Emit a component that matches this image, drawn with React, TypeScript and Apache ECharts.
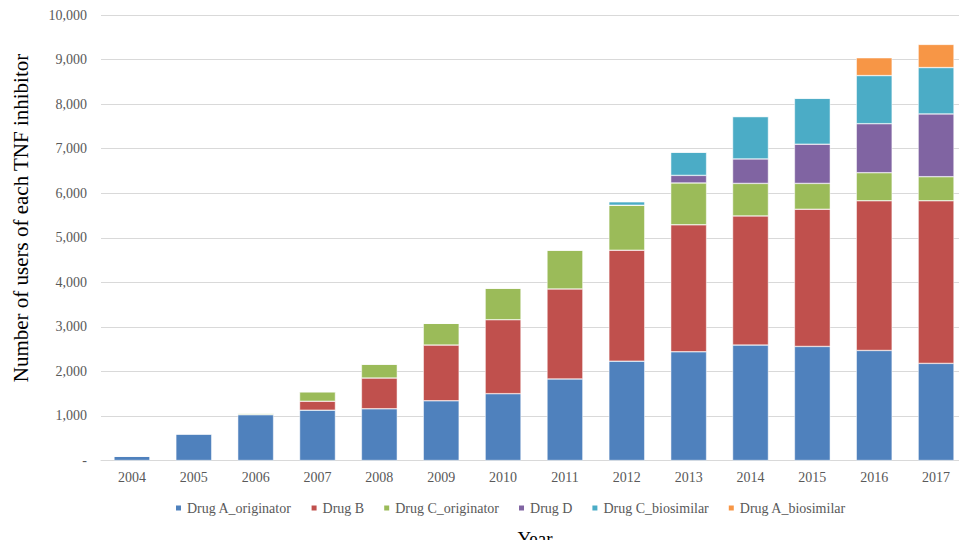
import React, { useEffect, useRef } from "react";
import * as echarts from "echarts";

const years = ["2004", "2005", "2006", "2007", "2008", "2009", "2010", "2011", "2012", "2013", "2014", "2015", "2016", "2017"];
const drugAOriginator = [100, 600, 1030, 1130, 1160, 1340, 1500, 1830, 2230, 2440, 2590, 2560, 2470, 2180];
const drugB = [0, 0, 0, 200, 690, 1250, 1660, 2020, 2490, 2850, 2900, 3080, 3360, 3650];
const drugCOriginator = [0, 0, 35, 215, 315, 490, 710, 875, 1010, 940, 730, 580, 630, 540];
const drugD = [0, 0, 0, 0, 0, 0, 0, 0, 0, 170, 550, 880, 1100, 1410];
const drugCBiosimilar = [0, 0, 0, 0, 0, 0, 0, 0, 80, 520, 950, 1030, 1080, 1040];
const drugABiosimilar = [0, 0, 0, 0, 0, 0, 0, 0, 0, 0, 0, 0, 400, 520];

const seriesDefs = [
  { name: "Drug A_originator", data: drugAOriginator, color: "#4F81BD" },
  { name: "Drug B", data: drugB, color: "#C0504D" },
  { name: "Drug C_originator", data: drugCOriginator, color: "#9BBB59" },
  { name: "Drug D", data: drugD, color: "#8064A2" },
  { name: "Drug C_biosimilar", data: drugCBiosimilar, color: "#4BACC6" },
  { name: "Drug A_biosimilar", data: drugABiosimilar, color: "#F79646" },
];

const FONT = "Liberation Serif";

export default function App() {
  const ref = useRef<HTMLDivElement>(null);
  useEffect(() => {
    if (!ref.current) return;
    const chart = echarts.init(ref.current, undefined, { renderer: "svg" });
    chart.setOption({
      animation: false,
      textStyle: { fontFamily: FONT },
      grid: { left: 101, right: 0, top: 15, bottom: 87.5, containLabel: false },
      legend: {
        left: 174,
        top: 501,
        padding: 0,
        itemWidth: 7,
        itemHeight: 7,
        itemGap: 18,
        icon: "rect",
        textStyle: { fontFamily: FONT, fontSize: 14, color: "#595959" },
        data: seriesDefs.map((s) => s.name),
      },
      xAxis: {
        type: "category",
        data: years,
        axisLine: { lineStyle: { color: "#d9d9d9" } },
        axisTick: { show: false },
        axisLabel: { fontFamily: FONT, fontSize: 14, color: "#595959", margin: 10 },
      },
      yAxis: {
        type: "value",
        min: 0,
        max: 10000,
        interval: 1000,
        axisLine: { show: false },
        axisTick: { show: false },
        splitLine: { lineStyle: { color: "#d9d9d9" } },
        axisLabel: {
          fontFamily: FONT,
          fontSize: 14,
          color: "#595959",
          margin: 14,
          formatter: (v: number) => (v === 0 ? "-" : v.toLocaleString("en-US")),
        },
      },
      graphic: [
        {
          type: "text",
          x: 21,
          y: 218,
          rotation: Math.PI / 2,
          style: {
            text: "Number of users of each TNF inhibitor",
            font: `21px ${FONT}`,
            fill: "#000",
            align: "center",
            verticalAlign: "middle",
          },
        },
        {
          type: "text",
          x: 535,
          y: 538.5,
          style: {
            text: "Year",
            font: `19px ${FONT}`,
            fill: "#000",
            align: "center",
            verticalAlign: "middle",
          },
        },
      ],
      series: seriesDefs.map((s) => ({
        name: s.name,
        type: "bar",
        stack: "total",
        barWidth: "58%",
        data: s.data,
        itemStyle: { color: s.color, borderColor: "#fff", borderWidth: 0.5 },
      })),
    });
    return () => chart.dispose();
  }, []);
  return <div ref={ref} style={{ width: 967, height: 548, margin: -8 }} />;
}
